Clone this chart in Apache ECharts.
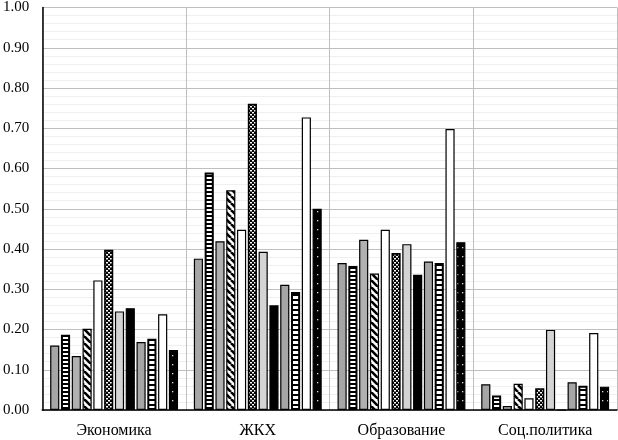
<!DOCTYPE html>
<html><head><meta charset="utf-8">
<script src="https://cdn.jsdelivr.net/npm/echarts@6/dist/echarts.min.js"></script>
<style>html,body{margin:0;padding:0;background:#fff}#c{width:618px;height:440px}</style>
</head><body><div id="c"></div>
<script>
const categories = ['Экономика', 'ЖКХ', 'Образование', 'Соц.политика'];
const s1  = [0.16, 0.376, 0.365, 0.064];
const s2  = [0.187, 0.590, 0.358, 0.036];
const s3  = [0.134, 0.419, 0.423, 0.010];
const s4  = [0.202, 0.546, 0.339, 0.065];
const s5  = [0.322, 0.448, 0.448, 0.029];
const s6  = [0.398, 0.761, 0.390, 0.054];
const s7  = [0.245, 0.393, 0.412, 0.199];
const s8  = [0.253, 0.260, 0.336, 0];
const s9  = [0.169, 0.311, 0.369, 0.069];
const s10 = [0.177, 0.293, 0.365, 0.060];
const s11 = [0.238, 0.727, 0.698, 0.191];
const s12 = [0.149, 0.500, 0.417, 0.058];
const yTicks = ['0.00','0.10','0.20','0.30','0.40','0.50','0.60','0.70','0.80','0.90','1.00'];

function pat(w, h, draw) {
  const c = document.createElement('canvas');
  c.width = w; c.height = h;
  const g = c.getContext('2d');
  draw(g, w, h);
  return { image: c, repeat: 'repeat' };
}
const pStripes = pat(4, 4, (g) => { g.fillStyle = '#000'; g.fillRect(0,0,4,4); g.fillStyle = '#fff'; g.fillRect(0,1,4,2); });
const pDiag = pat(7, 7, (g) => {
  g.fillStyle = '#fff'; g.fillRect(0,0,7,7);
  g.strokeStyle = '#000'; g.lineWidth = 2.6;
  [-7,0,7].forEach(o => { g.beginPath(); g.moveTo(o,0); g.lineTo(o+7,7); g.stroke(); });
});
const pCheck = pat(4, 4, (g) => { g.fillStyle = '#000'; g.fillRect(0,0,4,4); g.fillStyle = '#fff'; g.fillRect(0,0,2,1.5); g.fillRect(2,2,2,1.5); });
const pBrick = pat(5, 5, (g) => { g.fillStyle = '#000'; g.fillRect(0,0,5,5); g.fillStyle = '#fff'; g.fillRect(0,1,5,3); });
const pDots = pat(5, 9, (g) => { g.fillStyle = '#000'; g.fillRect(0,0,5,9); g.fillStyle = '#ddd'; g.fillRect(2,4,1.3,1.3); });

const fills = ['#a6a6a6', pStripes, '#b0b0b0', pDiag, '#ffffff', pCheck, '#d4d4d4', '#000000', '#a6a6a6', pBrick, '#ffffff', pDots];
const borderW = [1.2, 2, 1.2, 1.2, 1.2, 1.6, 1.2, 1.2, 1.2, 2, 1.2, 1.2];
const seriesData = [s1,s2,s3,s4,s5,s6,s7,s8,s9,s10,s11,s12];

const chart = echarts.init(document.getElementById('c'), null, { renderer: 'canvas' });
chart.setOption({
  animation: false,
  backgroundColor: '#fff',
  grid: { left: 39, right: 1, top: 6, bottom: 30, containLabel: false },
  xAxis: {
    type: 'category', data: categories,
    axisLine: { show: true, lineStyle: { color: '#000', width: 1.5 } },
    axisTick: { show: false },
    splitLine: { show: true, lineStyle: { color: '#bfbfbf', width: 1 } },
    axisLabel: { color: '#000', fontFamily: 'Liberation Serif', fontSize: 16, margin: 13 }
  },
  yAxis: {
    type: 'value', min: 0, max: 1, interval: 0.1,
    axisLine: { show: true, lineStyle: { color: '#000', width: 1.5 } },
    axisTick: { show: false },
    minorTick: { show: false, splitNumber: 5 },
    minorSplitLine: { show: true, lineStyle: { color: '#efefef', width: 1 } },
    splitLine: { show: true, lineStyle: { color: '#bfbfbf', width: 1 } },
    axisLabel: { color: '#000', fontFamily: 'Liberation Serif', fontSize: 15, margin: 13,
      formatter: (v) => yTicks[Math.round(v * 10)] }
  },
  series: seriesData.map((d, i) => ({
    type: 'bar', data: d,
    barGap: '18%', barCategoryGap: '11%',
    itemStyle: { color: fills[i], borderColor: '#000', borderWidth: borderW[i] }
  }))
});
</script></body></html>
